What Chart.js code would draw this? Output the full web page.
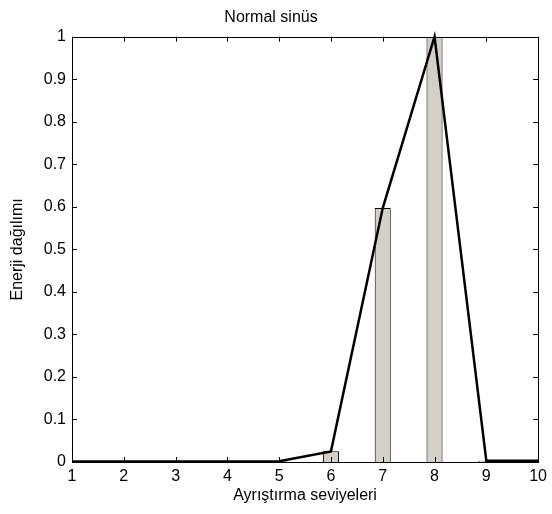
<!DOCTYPE html>
<html>
<head>
<meta charset="utf-8">
<script src="https://cdn.jsdelivr.net/npm/chart.js@4/dist/chart.umd.min.js"></script>
<style>
  html, body { margin: 0; padding: 0; background: #fff; }
  #wrap { width: 552px; height: 514px; }
</style>
</head>
<body>
<div id="wrap"><canvas id="energyChart" width="552" height="514"></canvas></div>
<script>
var levels = [1, 2, 3, 4, 5, 6, 7, 8, 9, 10];
var energy = [0.001, 0.001, 0.001, 0.001, 0.002, 0.025, 0.597, 1.0, 0.003, 0.003];
var xTicks = [1, 2, 3, 4, 5, 6, 7, 8, 9, 10];
var yTicks = [0, 0.1, 0.2, 0.3, 0.4, 0.5, 0.6, 0.7, 0.8, 0.9, 1];

var chartTitle = "Normal sinüs";
var xTitle = "Ayrıştırma seviyeleri";
var yTitle = "Enerji dağılımı";

var points = levels.map(function (x, i) { return { x: x, y: energy[i] }; });
var fontFamily = "'Liberation Sans', Arial, sans-serif";

// MATLAB style box with inward tick marks on all four sides
var boxTicks = {
  id: "boxTicks",
  afterDatasetsDraw: function (chart) {
    var ctx = chart.ctx;
    var a = chart.chartArea;
    var xs = chart.scales.x;
    var ys = chart.scales.y;
    var len = 5;
    ctx.save();
    ctx.strokeStyle = "#000";
    ctx.lineWidth = 1;
    ctx.beginPath();
    xTicks.forEach(function (v) {
      var px = Math.round(xs.getPixelForValue(v)) + 0.5;
      ctx.moveTo(px, a.bottom);
      ctx.lineTo(px, a.bottom - len);
      ctx.moveTo(px, a.top);
      ctx.lineTo(px, a.top + len);
    });
    yTicks.forEach(function (v) {
      var py = Math.round(ys.getPixelForValue(v)) + 0.5;
      ctx.moveTo(a.left, py);
      ctx.lineTo(a.left + len, py);
      ctx.moveTo(a.right, py);
      ctx.lineTo(a.right - len, py);
    });
    ctx.stroke();
    ctx.strokeRect(Math.round(a.left) + 0.5, Math.round(a.top) + 0.5,
      Math.round(a.right - a.left), Math.round(a.bottom - a.top));
    ctx.restore();
  }
};

new Chart(document.getElementById("energyChart"), {
  type: "bar",
  data: {
    datasets: [
      {
        type: "line",
        label: "line",
        data: points,
        borderColor: "#000",
        borderWidth: 2.5,
        pointRadius: 0,
        tension: 0,
        fill: false,
        clip: false,
        order: 0,
      },
      {
        type: "bar",
        label: "bars",
        data: points,
        backgroundColor: "#d4d0c8",
        borderColor: "#000",
        borderWidth: 1,
        barPercentage: 0.31,
        categoryPercentage: 1,
        order: 1,
      },
    ],
  },
  options: {
    responsive: false,
    animation: false,
    layout: { padding: { left: 0, right: 10, top: 0, bottom: 0 } },
    scales: {
      x: {
        type: "linear",
        min: 1,
        max: 10,
        offset: false,
        afterBuildTicks: function (s) {
          s.ticks = xTicks.map(function (v) { return { value: v }; });
        },
        afterFit: function (s) { s.height = 52; },
        grid: { display: false, drawTicks: false },
        border: { display: false },
        ticks: {
          color: "#000",
          padding: 5,
          maxRotation: 0,
          autoSkip: false,
          font: { family: fontFamily, size: 16 },
        },
        title: {
          display: true,
          text: xTitle,
          color: "#000",
          padding: { top: 0, bottom: 9 },
          font: { family: fontFamily, size: 16 },
        },
      },
      y: {
        min: 0,
        max: 1,
        afterBuildTicks: function (s) {
          s.ticks = yTicks.map(function (v) { return { value: v }; });
        },
        afterFit: function (s) { s.width = 72; },
        grid: { display: false, drawTicks: false },
        border: { display: false },
        ticks: {
          color: "#000",
          padding: 6,
          autoSkip: false,
          font: { family: fontFamily, size: 16 },
          callback: function (v) { return String(Math.round(v * 10) / 10); },
        },
        title: {
          display: true,
          text: yTitle,
          color: "#000",
          padding: { top: 8, bottom: 0 },
          font: { family: fontFamily, size: 16 },
        },
      },
    },
    plugins: {
      legend: { display: false },
      tooltip: { enabled: false },
      title: {
        display: true,
        text: chartTitle,
        color: "#000",
        padding: { top: 8, bottom: 9.5 },
        font: { family: fontFamily, size: 16, weight: "normal" },
      },
    },
  },
  plugins: [boxTicks],
});
</script>
</body>
</html>
